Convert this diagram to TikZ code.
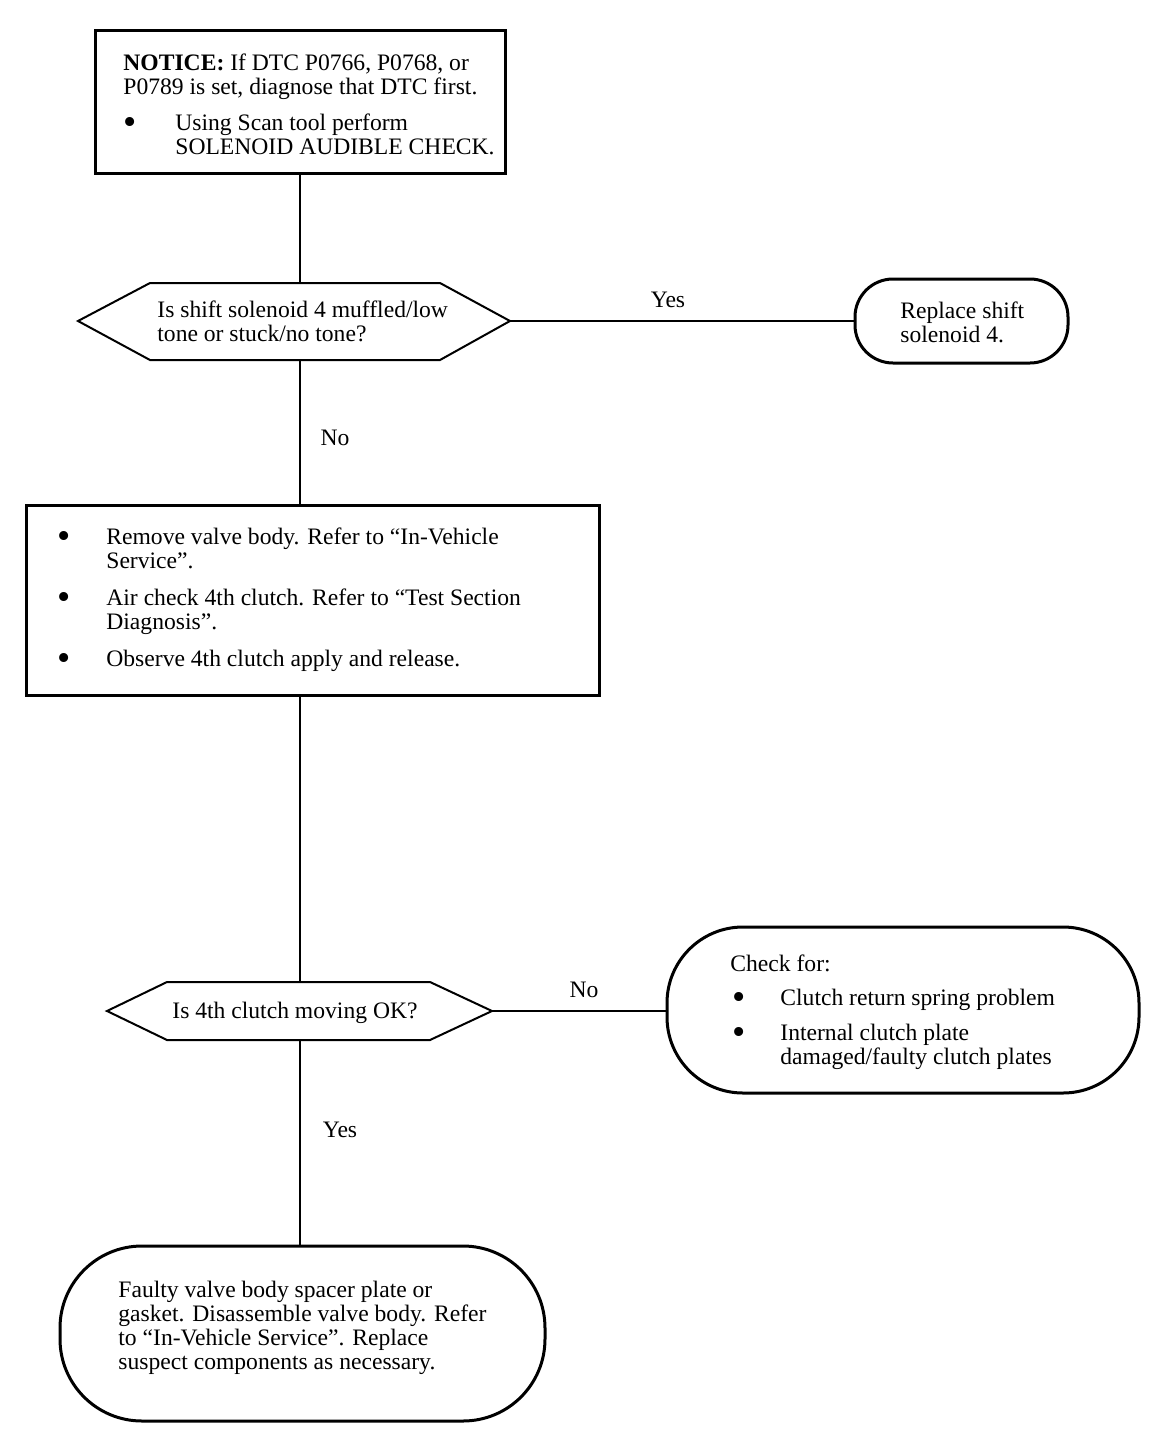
\documentclass[tikz,border=0pt]{standalone}
\usepackage{fontspec}
\setmainfont{Liberation Serif}
\usetikzlibrary{calc}
\newcommand\blt[1]{\makebox[#1][l]{\raisebox{-0.17em}{\scalebox{1.6}{\textbullet}}}}
\tikzset{
  every node/.style={font=\fontsize{11.8}{12}\selectfont},
  boxs/.style={draw, line width=1.5pt, rectangle, inner sep=0pt},
  terms/.style={draw, line width=1.5pt, rectangle, inner sep=0pt},
  hexs/.style={draw, line width=1pt, line join=miter},
  txt/.style={inner sep=0pt, align=left, anchor=north west},
  lbl/.style={inner sep=1pt},
  conn/.style={line width=1pt}
}
\begin{document}
\begin{tikzpicture}[x=0.5pt,y=-0.5pt]
\useasboundingbox (0,0) rectangle (1152,1440);
% shapes
\node[boxs, minimum width=205pt, minimum height=71.5pt] (b1) at (300,101.5) {};
\node[txt] (b1t) at (123,53) {\textbf{NOTICE:} If DTC P0766, P0768, or\\
P0789 is set, diagnose that DTC first.\\[6pt]
\blt{26pt}Using Scan tool perform\\
\hspace*{26pt}SOLENOID AUDIBLE CHECK.};

\coordinate (h1n) at (300,283);
\coordinate (h1s) at (300,360);
\coordinate (h1e) at (510,321);
\draw[hexs] (150,283) -- (h1n) -- (440,283) -- (h1e) -- (440,360) -- (h1s) -- (150,360) -- (78,321) -- cycle;
\node[txt] (h1t) at (157,300) {Is shift solenoid 4 muffled/low\\tone or stuck/no tone?};

\node[terms, rounded corners=19pt, minimum width=106.5pt, minimum height=42pt] (t1) at (961.5,321) {};
\node[txt] (t1t) at (900,301) {Replace shift\\solenoid 4.};

\node[boxs, minimum width=286.5pt, minimum height=95pt] (b2) at (313,600) {};
\node[txt] (b2t) at (57,527) {\blt{24.5pt}Remove valve body. Refer to “In-Vehicle\\
\hspace*{24.5pt}Service”.\\[6.5pt]
\blt{24.5pt}Air check 4th clutch. Refer to “Test Section\\
\hspace*{24.5pt}Diagnosis”.\\[6.5pt]
\blt{24.5pt}Observe 4th clutch apply and release.};

\coordinate (h2n) at (300,982);
\coordinate (h2s) at (300,1040);
\coordinate (h2e) at (492,1011);
\draw[hexs] (167,982) -- (h2n) -- (430,982) -- (h2e) -- (430,1040) -- (h2s) -- (167,1040) -- (107,1011) -- cycle;
\node[txt] (h2t) at (172,1002) {Is 4th clutch moving OK?};

\node[terms, rounded corners=38pt, minimum width=236pt, minimum height=83pt] (t2) at (903,1010) {};
\node[txt] (t2t) at (730,954) {Check for:\\[5pt]
\hspace*{1pt}\blt{24pt}Clutch return spring problem\\[5.5pt]
\hspace*{1pt}\blt{24pt}Internal clutch plate\\
\hspace*{25pt}damaged/faulty clutch plates};

\node[terms, rounded corners=41pt, minimum width=242.5pt, minimum height=87.5pt] (t3) at (302.5,1333.5) {};
\node[txt] (t3t) at (118,1281) {Faulty valve body spacer plate or\\
gasket. Disassemble valve body. Refer\\
to “In-Vehicle Service”. Replace\\
suspect components as necessary.};

% connectors
\draw[conn] (b1.south -| h1n) -- (h1n);
\draw[conn] (h1e) -- (t1.west);
\draw[conn] (h1s) -- (h1s |- b2.north);
\draw[conn] (h1s |- b2.south) -- (h2n);
\draw[conn] (h2e) -- (h2e -| t2.west);
\draw[conn] (h2s) -- (h2s |- t3.north);

% labels
\node[lbl] (yes1) at (668,300) {Yes};
\node[lbl] (no1) at (335,438) {No};
\node[lbl] (no2) at (584,990) {No};
\node[lbl] (yes2) at (340,1130) {Yes};
\end{tikzpicture}
\end{document}
